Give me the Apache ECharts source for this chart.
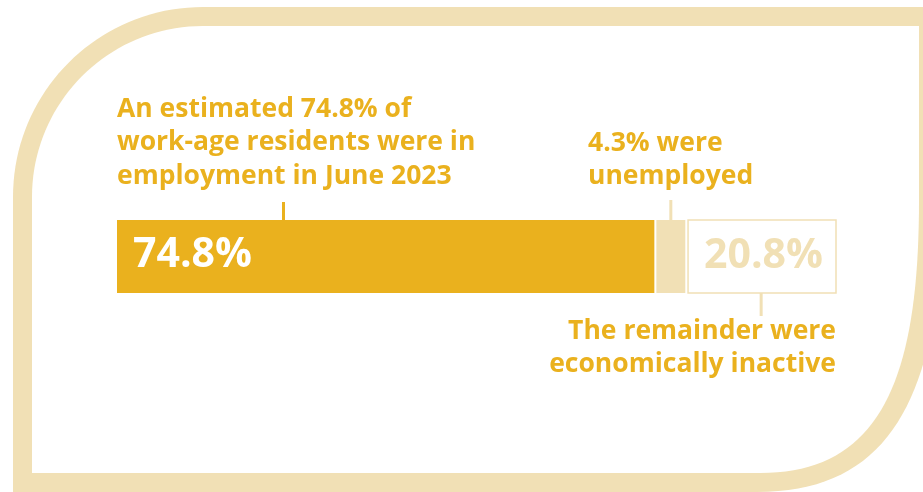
<!DOCTYPE html>
<html>
<head>
<meta charset="utf-8">
<script src="https://cdn.jsdelivr.net/npm/echarts@6/dist/echarts.min.js"></script>
<style>
html,body{margin:0;padding:0;background:#fff;}
#chart{width:923px;height:492px;}
</style>
</head>
<body>
<div id="chart"></div>
<script>
// ---- data ----
const categories = ['Work-age residents, June 2023'];
const segmentNames = ['In employment', 'Unemployed', 'Economically inactive'];
const segmentValues = [74.8, 4.3, 20.8];
const segmentLabels = ['74.8%', '', '20.8%'];
const annotationEmployed = ['An estimated 74.8% of', 'work-age residents were in', 'employment in June 2023'];
const annotationUnemployed = ['4.3% were', 'unemployed'];
const annotationInactive = ['The remainder were', 'economically inactive'];

// ---- styles ----
const GOLD = '#EAB11E';
const BEIGE = '#F1E0B5';
const FONT = '"Open Sans", Lato, sans-serif';

const total = segmentValues.reduce((a, b) => a + b, 0);
const rows = [];
let acc = 0;
segmentValues.forEach((v, i) => { rows.push([0, acc, acc + v, i]); acc += v; });

const chart = echarts.init(document.getElementById('chart'), null, {renderer: 'canvas'});

chart.setOption({
  animation: false,
  grid: {left: 117, right: 87, top: 220, height: 73},
  xAxis: {type: 'value', min: 0, max: total, show: false},
  yAxis: {type: 'category', data: categories, show: false},
  series: [{
    type: 'custom',
    name: 'Employment status',
    data: rows,
    encode: {x: [1, 2], y: 0},
    renderItem: function (params, api) {
      const seg = api.value(3);
      const c = api.value(0);
      const p0 = api.coord([api.value(1), c]);
      const p1 = api.coord([api.value(2), c]);
      const bh = api.size([0, 1])[1];
      const top = p0[1] - bh / 2;
      const children = [];
      if (seg === 0) {
        children.push({type: 'rect', shape: {x: p0[0], y: top, width: p1[0] - p0[0] - 1, height: bh}, style: {fill: GOLD}});
        children.push({type: 'text', style: {text: segmentLabels[seg], x: p0[0] + 16, y: p0[1] - 1, fill: '#fff',
          fontSize: 41, fontWeight: 'bold', fontFamily: FONT, textAlign: 'left', textVerticalAlign: 'middle'}});
      } else if (seg === 1) {
        children.push({type: 'rect', shape: {x: p0[0] + 1, y: top, width: p1[0] - p0[0] - 2, height: bh}, style: {fill: BEIGE}});
      } else {
        children.push({type: 'rect', shape: {x: p0[0] + 1.75, y: top, width: p1[0] - p0[0] - 1.75, height: bh},
          style: {fill: '#fff', stroke: BEIGE, lineWidth: 1.5}});
        children.push({type: 'text', style: {text: segmentLabels[seg], x: p1[0] - 13, y: p0[1], fill: BEIGE,
          fontSize: 41, fontWeight: 'bold', fontFamily: FONT, textAlign: 'right', textVerticalAlign: 'middle'}});
      }
      return {type: 'group', children: children};
    }
  }]
});

// positions of leader ticks derived from the data scale
const seg2Mid = chart.convertToPixel({gridIndex: 0}, [segmentValues[0] + segmentValues[1] / 2, 0]);
const seg3Mid = chart.convertToPixel({gridIndex: 0}, [segmentValues[0] + segmentValues[1] + segmentValues[2] / 2, 0]);

function textLines(lines, x, yFirst, step, align) {
  return lines.map((t, i) => ({
    type: 'text', z: 10,
    style: {text: t, x: x, y: yFirst + i * step, fill: GOLD, fontSize: 26.5, fontWeight: 'bold',
      fontFamily: FONT, textAlign: align, textVerticalAlign: 'middle'}
  }));
}

// decorative frame outline as polygons (cubic curves sampled)
function cubic(p0, c1, c2, p1, n) {
  const pts = [];
  for (let i = 0; i <= n; i++) {
    const t = i / n, u = 1 - t;
    pts.push([
      u*u*u*p0[0] + 3*u*u*t*c1[0] + 3*u*t*t*c2[0] + t*t*t*p1[0],
      u*u*u*p0[1] + 3*u*u*t*c1[1] + 3*u*t*t*c2[1] + t*t*t*p1[1]
    ]);
  }
  return pts;
}
const outerPts = [[13, 492]].concat(
  cubic([13, 197], [13, 92], [98, 7], [203, 7], 40),
  [[945, 7]],
  cubic([945, 160], [945, 375], [905, 492], [757, 492], 40)
);
const innerPts = [[32, 473]].concat(
  cubic([32, 197], [32, 102.6], [108.6, 26], [203, 26], 40),
  [[919, 26]],
  cubic([919, 200], [919, 380], [880, 473], [760, 473], 40)
);

const graphics = [
  {type: 'polygon', z: -10, shape: {points: outerPts}, style: {fill: BEIGE}},
  {type: 'polygon', z: -9, shape: {points: innerPts}, style: {fill: '#fff'}},
  // leader ticks
  {type: 'rect', z: 5, shape: {x: 282, y: 202, width: 3, height: 18}, style: {fill: GOLD}},
  {type: 'rect', z: 5, shape: {x: seg2Mid[0] - 1.5, y: 200, width: 3, height: 20}, style: {fill: BEIGE}},
  {type: 'rect', z: 5, shape: {x: seg3Mid[0] - 1.5, y: 293, width: 3, height: 23}, style: {fill: BEIGE}}
].concat(
  textLines(annotationEmployed, 117, 109, 33.5, 'left'),
  textLines(annotationUnemployed, 588, 143.5, 33, 'left'),
  textLines(annotationInactive, 836, 331.5, 33, 'right')
);

chart.setOption({graphic: graphics});
</script>
</body>
</html>
